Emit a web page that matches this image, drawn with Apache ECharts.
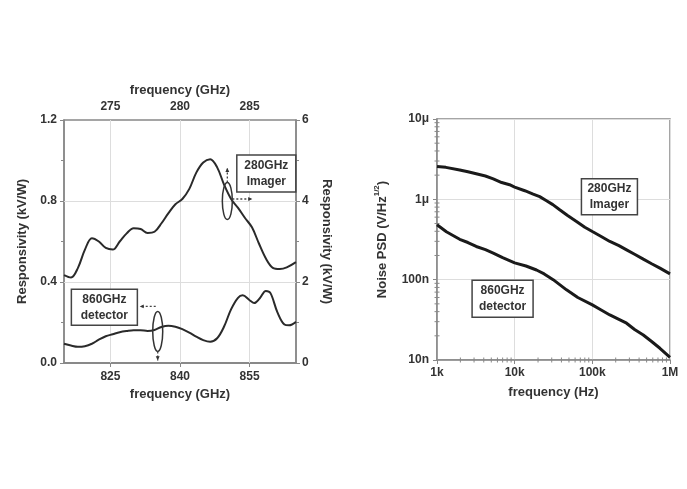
<!DOCTYPE html>
<html lang="en">
<head>
<meta charset="UTF-8">
<title>Responsivity and noise</title>
<script src="https://cdn.jsdelivr.net/npm/echarts@6/dist/echarts.min.js"></script>
<style>
    html, body { margin: 0; padding: 0; background: #fff; }
    #main { width: 687px; height: 489px; }
</style>
</head>
<body>
<div id="main"></div>
<script>
// 860GHz detector, bottom axis (GHz) / left axis (kV/W)
var detFreq = [815, 816.5, 818, 819.5, 821, 822.5, 824, 825.5, 827, 828.5, 830, 831.5, 833, 834.5, 836, 837.5, 839, 840.5, 842, 843.5, 845, 846.5, 848, 849.5, 851, 852.5, 853.5, 855, 856, 857.2, 858.5, 859.5, 861, 862.5, 863.5, 865];
var detResp = [0.095, 0.086, 0.080, 0.083, 0.095, 0.115, 0.132, 0.142, 0.152, 0.158, 0.162, 0.162, 0.158, 0.163, 0.178, 0.184, 0.179, 0.167, 0.15, 0.13, 0.113, 0.105, 0.122, 0.18, 0.265, 0.322, 0.334, 0.31, 0.296, 0.32, 0.356, 0.345, 0.25, 0.19, 0.186, 0.203];

// 280GHz imager, top axis (GHz) / right axis (kV/W)
var imgFreq = [271.67, 272.17, 272.67, 273.17, 273.67, 274.17, 274.67, 275.17, 275.67, 276.17, 276.67, 277.17, 277.67, 278.17, 278.67, 279.17, 279.67, 280.17, 280.67, 281.17, 281.67, 282.17, 282.67, 283.17, 283.67, 284.17, 284.67, 285.17, 285.67, 286.17, 286.67, 287.17, 287.67, 288.33];
var imgResp = [2.17, 2.11, 2.35, 2.8, 3.08, 3.0, 2.84, 2.8, 3.0, 3.2, 3.33, 3.31, 3.21, 3.24, 3.45, 3.7, 3.92, 4.05, 4.3, 4.7, 4.95, 5.03, 4.83, 4.4, 4.05, 3.83, 3.58, 3.35, 2.95, 2.58, 2.35, 2.32, 2.36, 2.49];

// noise PSD (V/Hz^1/2)
var psdImgFreq = [1e3, 1.3e3, 1.96e3, 2.5e3, 3.2e3, 4.2e3, 5.3e3, 6.8e3, 8.6e3, 1e4, 1.35e4, 1.73e4, 2.1e4, 2.57e4, 3.1e4, 3.8e4, 4.8e4, 6.25e4, 8e4, 1e5, 1.3e5, 1.68e5, 2.2e5, 2.76e5, 3.5e5, 4.53e5, 5.8e5, 7.42e5, 1e6];
var psdImg = [2.57e-6, 2.5e-6, 2.32e-6, 2.2e-6, 2.08e-6, 1.95e-6, 1.80e-6, 1.62e-6, 1.52e-6, 1.42e-6, 1.28e-6, 1.16e-6, 1.08e-6, 0.96e-6, 0.86e-6, 0.741e-6, 0.63e-6, 0.531e-6, 0.45e-6, 0.398e-6, 0.345e-6, 0.299e-6, 0.265e-6, 0.235e-6, 0.207e-6, 0.180e-6, 0.158e-6, 0.139e-6, 0.118e-6];
var psdDetFreq = [1e3, 1.32e3, 1.65e3, 1.96e3, 2.5e3, 3.2e3, 4.2e3, 5.3e3, 7e3, 1e4, 1.4e4, 1.91e4, 2.4e4, 3.13e4, 4.65e4, 6.5e4, 1e5, 1.3e5, 1.68e5, 2.2e5, 2.76e5, 3.5e5, 4.53e5, 5.8e5, 7.42e5, 1e6];
var psdDet = [482e-9, 395e-9, 350e-9, 318e-9, 290e-9, 259e-9, 236e-9, 214e-9, 188e-9, 162e-9, 148e-9, 132e-9, 118e-9, 100e-9, 74.7e-9, 60e-9, 48.5e-9, 42e-9, 36.4e-9, 32e-9, 28.7e-9, 24e-9, 20.5e-9, 17e-9, 14e-9, 10.8e-9];

// ticks
var bottomTicks = [825, 840, 855];
var topTicks = [275, 280, 285];
var respGrid = [0.4, 0.8];
var hzLabels = { 3: '1k', 4: '10k', 5: '100k', 6: '1M' };
var psdLabels = { '-8': '10n', '-7': '100n', '-6': '1μ', '-5': '10μ' };

function zip(a, b) {
    return a.map(function (v, i) { return [v, b[i]]; });
}

var minorX = [], minorY = [];
[1e3, 1e4, 1e5].forEach(function (d) {
    for (var k = 2; k <= 9; k++) minorX.push(k * d);
});
[1e-8, 1e-7, 1e-6].forEach(function (d) {
    for (var k = 2; k <= 9; k++) minorY.push(k * d);
});
var minorData = minorX.map(function (v) { return [v, 1e-8, 0]; })
    .concat(minorY.map(function (v) { return [1e3, v, 1]; }));

var font = 'Liberation Sans';
var txt = '#333';
var axisCol = '#888';
var gridCol = '#ddd';
var lbl = { color: txt, fontFamily: font, fontWeight: 'bold', fontSize: 12 };
var nameStyle = { color: txt, fontFamily: font, fontWeight: 'bold', fontSize: 13 };

var myChart = echarts.init(document.getElementById('main'));

var option = {
    backgroundColor: '#fff',
    animation: false,
    grid: [
        { left: 64, top: 120, width: 232, height: 243, show: true, borderColor: axisCol, borderWidth: 1.5 },
        { left: 437, top: 119, width: 233, height: 241, show: true, borderColor: axisCol, borderWidth: 1.5 }
    ],
    xAxis: [
        {
            gridIndex: 0, type: 'value', position: 'bottom', min: 815, max: 865,
            name: 'frequency (GHz)', nameLocation: 'middle', nameGap: 25, nameTextStyle: nameStyle,
            axisLine: { lineStyle: { color: axisCol, width: 1.5 } },
            axisTick: { customValues: bottomTicks, length: 4, lineStyle: { color: axisCol } },
            axisLabel: Object.assign({ customValues: bottomTicks, margin: 8 }, lbl),
            splitLine: { show: false }
        },
        {
            gridIndex: 0, type: 'value', position: 'top', min: 815 / 3, max: 865 / 3,
            name: 'frequency (GHz)', nameLocation: 'middle', nameGap: 23, nameTextStyle: nameStyle,
            axisLine: { lineStyle: { color: axisCol, width: 1.5 } },
            axisTick: { customValues: topTicks, inside: true, length: 4, lineStyle: { color: axisCol } },
            axisLabel: Object.assign({ customValues: topTicks, margin: 7 }, lbl),
            splitLine: { show: false }
        },
        {
            gridIndex: 1, type: 'log', logBase: 10, min: 1e3, max: 1e6,
            name: 'frequency (Hz)', nameLocation: 'middle', nameGap: 26, nameTextStyle: nameStyle,
            axisLine: { lineStyle: { color: axisCol, width: 1.5 } },
            axisTick: { length: 4, lineStyle: { color: axisCol } },
            axisLabel: Object.assign({
                margin: 7,
                formatter: function (v) { return hzLabels[Math.round(Math.log10(v))]; }
            }, lbl),
            splitLine: { show: true, lineStyle: { color: gridCol } }
        }
    ],
    yAxis: [
        {
            gridIndex: 0, type: 'value', position: 'left', min: 0, max: 1.2, interval: 0.4,
            name: 'Responsivity (kV/W)', nameLocation: 'middle', nameGap: 35, nameTextStyle: nameStyle,
            axisLine: { show: true, lineStyle: { color: axisCol, width: 1.5 } },
            axisTick: { show: true, length: 4, lineStyle: { color: axisCol } },
            minorTick: { show: true, splitNumber: 2, length: 3, lineStyle: { color: axisCol } },
            axisLabel: Object.assign({ margin: 7, formatter: function (v) { return v.toFixed(1); } }, lbl),
            splitLine: { show: false }
        },
        {
            gridIndex: 0, type: 'value', position: 'right', min: 0, max: 6, interval: 2,
            name: 'Responsivity (kV/W)', nameLocation: 'middle', nameGap: 24, nameRotate: -90, nameTextStyle: nameStyle,
            axisLine: { show: true, lineStyle: { color: axisCol, width: 1.5 } },
            axisTick: { show: true, length: 4, lineStyle: { color: axisCol } },
            minorTick: { show: true, splitNumber: 2, length: 3, lineStyle: { color: axisCol } },
            axisLabel: Object.assign({ margin: 6 }, lbl),
            splitLine: { show: false }
        },
        {
            gridIndex: 1, type: 'log', logBase: 10, min: 1e-8, max: 1e-5,
            name: '{a|Noise PSD (V/Hz}{s|1/2}{a|)}', nameLocation: 'middle', nameGap: 46,
            nameTextStyle: {
                rich: {
                    a: nameStyle,
                    s: { color: txt, fontFamily: font, fontWeight: 'bold', fontSize: 8, verticalAlign: 'top', lineHeight: 18 }
                }
            },
            axisLine: { show: true, lineStyle: { color: axisCol, width: 1.5 } },
            axisTick: { show: true, length: 4, lineStyle: { color: axisCol } },
            axisLabel: Object.assign({
                margin: 8,
                formatter: function (v) { return psdLabels[String(Math.round(Math.log10(v)))]; }
            }, lbl),
            splitLine: { show: true, lineStyle: { color: gridCol } }
        }
    ],
    series: [
        {
            // grid lines of the responsivity plot, kept under the curves
            type: 'line', xAxisIndex: 0, yAxisIndex: 0, data: [], z: 1, silent: true,
            markLine: {
                z: 1, silent: true, symbol: 'none', label: { show: false }, animation: false,
                lineStyle: { color: gridCol, type: 'solid', width: 1 },
                data: bottomTicks.map(function (v) { return { xAxis: v }; })
                    .concat(respGrid.map(function (v) { return { yAxis: v }; }))
            }
        },
        {
            name: '860GHz detector', type: 'line', xAxisIndex: 0, yAxisIndex: 0,
            data: zip(detFreq, detResp), smooth: 0.35, showSymbol: false,
            lineStyle: { color: '#2a2a2a', width: 2 }, z: 3
        },
        {
            name: '280GHz imager', type: 'line', xAxisIndex: 1, yAxisIndex: 1,
            data: zip(imgFreq, imgResp), smooth: 0.35, showSymbol: false,
            lineStyle: { color: '#2a2a2a', width: 2 }, z: 3
        },
        {
            name: '280GHz imager PSD', type: 'line', xAxisIndex: 2, yAxisIndex: 2,
            data: zip(psdImgFreq, psdImg), showSymbol: false,
            lineStyle: { color: '#1a1a1a', width: 3 }, z: 3
        },
        {
            name: '860GHz detector PSD', type: 'line', xAxisIndex: 2, yAxisIndex: 2,
            data: zip(psdDetFreq, psdDet), showSymbol: false,
            lineStyle: { color: '#1a1a1a', width: 3 }, z: 3
        },
        {
            // log minor ticks on bottom and left axes
            type: 'custom', xAxisIndex: 2, yAxisIndex: 2, silent: true, clip: false,
            data: minorData,
            renderItem: function (params, api) {
                var p = api.coord([api.value(0), api.value(1)]);
                var vertical = api.value(2) === 0;
                return {
                    type: 'line',
                    shape: vertical ? { x1: p[0], y1: p[1] - 2.5, x2: p[0], y2: p[1] + 2.5 }
                                    : { x1: p[0] - 2.5, y1: p[1], x2: p[0] + 2.5, y2: p[1] },
                    style: { stroke: axisCol, lineWidth: 1 }
                };
            }
        }
    ]
};

myChart.setOption(option);

// annotations placed from data coordinates
function px(grid, pt) {
    var f = grid === 0 ? { xAxisIndex: 0, yAxisIndex: 0 } : { xAxisIndex: 2, yAxisIndex: 2 };
    return myChart.convertToPixel(f, pt);
}

function box(c, w, h, text) {
    return [
        { type: 'rect', shape: { x: c[0] - w / 2, y: c[1] - h / 2, width: w, height: h },
          style: { fill: '#fff', stroke: '#444', lineWidth: 1.5 }, z: 10 },
        { type: 'text', x: c[0], y: c[1], z: 11,
          style: { text: text, fill: txt, font: 'bold 12px "Liberation Sans"', align: 'center',
                   verticalAlign: 'middle', lineHeight: 16 } }
    ];
}

function arrow(x1, y1, x2, y2) {
    var a = Math.atan2(y2 - y1, x2 - x1), s = 4.5;
    var l = [x2 - s * Math.cos(a - 0.45), y2 - s * Math.sin(a - 0.45)];
    var r = [x2 - s * Math.cos(a + 0.45), y2 - s * Math.sin(a + 0.45)];
    return [
        { type: 'line', shape: { x1: x1, y1: y1, x2: x2, y2: y2 },
          style: { stroke: '#444', lineWidth: 1.3, lineDash: [2, 2] }, z: 10 },
        { type: 'polygon', shape: { points: [[x2, y2], l, r] }, style: { fill: '#333' }, z: 10 }
    ];
}

function ellipse(c, rx, ry) {
    return { type: 'ellipse', shape: { cx: c[0], cy: c[1], rx: rx, ry: ry },
             style: { fill: 'none', stroke: '#333', lineWidth: 1.5 }, z: 10 };
}

var g = [];
var imgEl = px(0, [850.2, 0.80]);
var detEl = px(0, [835.2, 0.156]);
g = g.concat(box(px(0, [858.6, 0.936]), 59, 37, '280GHz\nImager'));
g = g.concat(box(px(0, [823.7, 0.275]), 66, 36, '860GHz\ndetector'));
g.push(ellipse(imgEl, 5, 18.5));
g.push(ellipse(detEl, 5, 20));
g = g.concat(arrow(imgEl[0], imgEl[1] - 18.5, imgEl[0], imgEl[1] - 33));
g = g.concat(arrow(imgEl[0] + 5, imgEl[1] - 2, imgEl[0] + 25, imgEl[1] - 2));
g = g.concat(arrow(detEl[0] - 2, detEl[1] - 25, detEl[0] - 18, detEl[1] - 25));
g = g.concat(arrow(detEl[0], detEl[1] + 20, detEl[0], detEl[1] + 29));
g = g.concat(box(px(1, [1.66e5, 1.076e-6]), 56, 36, '280GHz\nImager'));
g = g.concat(box(px(1, [6.99e3, 5.8e-8]), 61, 37, '860GHz\ndetector'));

myChart.setOption({ graphic: g });
</script>
</body>
</html>
